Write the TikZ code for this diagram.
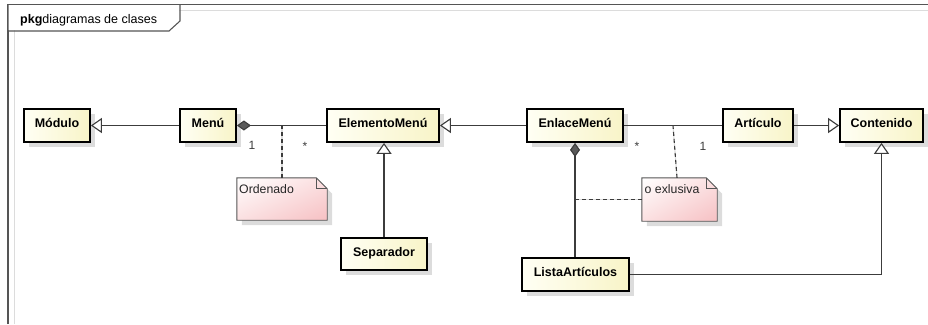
\documentclass[tikz,border=0pt]{standalone}
\usepackage{fontspec}
\setmainfont{Liberation Sans}
\usetikzlibrary{arrows.meta,shadows,backgrounds,calc,shadings}
\definecolor{linec}{HTML}{3C3C3C}
\definecolor{framec}{HTML}{555555}
\definecolor{shadowc}{HTML}{DCDCDC}
\definecolor{clsA}{HTML}{FFFFF4}
\definecolor{clsB}{HTML}{F8F4C8}
\definecolor{noteB}{HTML}{F6C0C3}
\definecolor{noteM}{HTML}{FBE0E1}
\definecolor{notec}{HTML}{555555}
\newcommand\umlnote[1]{%
  \fill[shadowc] ($(#1.north west)+(5,5)$) -- ($(#1.north east)+(-6,5)$) -- ($(#1.north east)+(5,16)$) -- ($(#1.south east)+(5,5)$) -- ($(#1.south west)+(5,5)$) -- cycle;
  \shade[upper left=white, upper right=noteM, lower left=noteM, lower right=noteB] (#1.north west) -- ($(#1.north east)+(-11,0)$) -- ($(#1.north east)+(0,11)$) -- (#1.south east) -- (#1.south west) -- cycle;
  \draw[notec, line width=0.9pt, line join=miter] (#1.north west) -- ($(#1.north east)+(-11,0)$) -- ($(#1.north east)+(0,11)$) -- (#1.south east) -- (#1.south west) -- cycle;
  \draw[notec, line width=0.9pt] ($(#1.north east)+(-11,0)$) |- ($(#1.north east)+(0,11)$);
}
\begin{document}
\begin{tikzpicture}[x=1pt,y=-1pt,
  cls/.style={draw=black, line width=1.8pt, inner sep=0pt, minimum height=33pt,
    text height=9pt, text depth=5pt,
    font=\fontsize{12.5}{15}\selectfont\bfseries, left color=clsA, right color=clsB,
    drop shadow={shadow xshift=5pt, shadow yshift=-5pt, fill=shadowc, opacity=1}},
  notebox/.style={inner sep=0pt},
  notetext/.style={inner sep=0pt, anchor=base west, text=black!85, font=\fontsize{12.3}{15}\selectfont},
  mult/.style={inner sep=0pt, anchor=base, text=linec, font=\fontsize{12}{14}\selectfont},
  conn/.style={draw=linec, line width=1.1pt},
  gen/.style={conn, -{Triangle[open, length=11pt, width=15pt, fill=white]}},
  comp/.style={conn, {Diamond[length=14pt, width=10pt, fill=linec!85]}-},
  dashl/.style={draw=linec, line width=1.1pt, dash pattern=on 4pt off 3pt},
  shl/.style={draw=shadowc, line width=1.1pt},
  shgen/.style={shl, -{Triangle[open, length=11pt, width=15pt, fill=white]}},
  shcomp/.style={shl, {Diamond[length=14pt, width=10pt, fill=shadowc]}-},
]
\useasboundingbox (0,0) rectangle (928,324);
% frame
\draw[shadowc, line width=1pt] (14,324) -- (14,10) -- (928,10);
\draw[framec, line width=1.4pt] (8,324) -- (8,4.5) -- (928,4.5);
\fill[white] (8.7,5.2) -- (179.3,5.2) -- (179.3,21) -- (168.7,30.3) -- (8.7,30.3) -- cycle;
\draw[framec, line width=1.1pt] (180,4.5) -- (180,21) -- (169,31) -- (8,31);
\node[anchor=base west, inner sep=0pt, font=\fontsize{12.5}{15}\selectfont] (hdr) at (20,23) {\textbf{pkg}diagramas de clases};

% classes
\node[cls, minimum width=66pt] (mod) at (57,125.5) {Módulo};
\node[cls, minimum width=56pt] (menu) at (208,125.5) {Menú};
\node[cls, minimum width=112pt] (elem) at (383,125.5) {ElementoMenú};
\node[cls, minimum width=96pt] (enl) at (575,125.5) {EnlaceMenú};
\node[cls, minimum width=70pt] (art) at (758,125.5) {Artículo};
\node[cls, minimum width=83pt] (cont) at (881.5,125.5) {Contenido};
\node[cls, minimum width=86pt, minimum height=32pt] (sep) at (384,254) {Separador};
\node[cls, minimum width=107pt] (lista) at (575.5,274.5) {ListaArtículos};

% notes
\node[notebox, minimum width=90pt, minimum height=42pt] (n1) at (282,199) {};
\node[notebox, minimum width=75pt, minimum height=43pt] (n2) at (679.5,199.5) {};
\umlnote{n1}
\umlnote{n2}
\node[notetext] (n1t) at (239,193) {Ordenado};
\node[notetext] (n2t) at (644.5,193) {o exlusiva};

% connector shadows
\begin{scope}[on background layer, transform canvas={shift={(5pt,-5pt)}}]
\draw[shgen] (menu.west) -- (mod.east);
\draw[shcomp] (menu.east) -- (elem.west);
\draw[shgen] (enl.west) -- (elem.east);
\draw[shgen] (sep.north) -- (sep.north |- elem.south);
\draw[shl] (enl.east) -- (art.west);
\draw[shgen] (art.east) -- (cont.west);
\draw[shcomp] (enl.south) -- (enl.south |- lista.north);
\draw[shgen] (lista.east) -| (cont.south);
\draw[shl] (n1.north) -- (n1.north |- menu.east);
\draw[shl] ([xshift=-2.5pt]n2.north) -- (673,125.5);
\draw[shl] (n2.west) -- (n2.west -| enl.south);
\end{scope}

% connectors
\draw[gen] (menu.west) -- (mod.east);
\draw[comp] (menu.east) -- (elem.west);
\draw[gen] (enl.west) -- (elem.east);
\draw[gen] (sep.north) -- (sep.north |- elem.south);
\draw[conn] (enl.east) -- (art.west);
\draw[gen] (art.east) -- (cont.west);
\draw[comp] (enl.south) -- (enl.south |- lista.north);
\draw[gen] (lista.east) -| (cont.south);

% note anchors
\coordinate (d1) at (n1.north |- menu.east);
\coordinate (d2) at (673,125.5);
\coordinate (d3) at (n2.west -| enl.south);
\draw[dashl] (n1.north) -- (d1);
\draw[dashl] ([xshift=-2.5pt]n2.north) -- (d2);
\draw[dashl] (n2.west) -- (d3);

% multiplicities
\node[mult] (m1) at (252,149) {1};
\node[mult] (m2) at (305,150) {*};
\node[mult] (m3) at (637,150) {*};
\node[mult] (m4) at (703,150) {1};
\end{tikzpicture}
\end{document}
